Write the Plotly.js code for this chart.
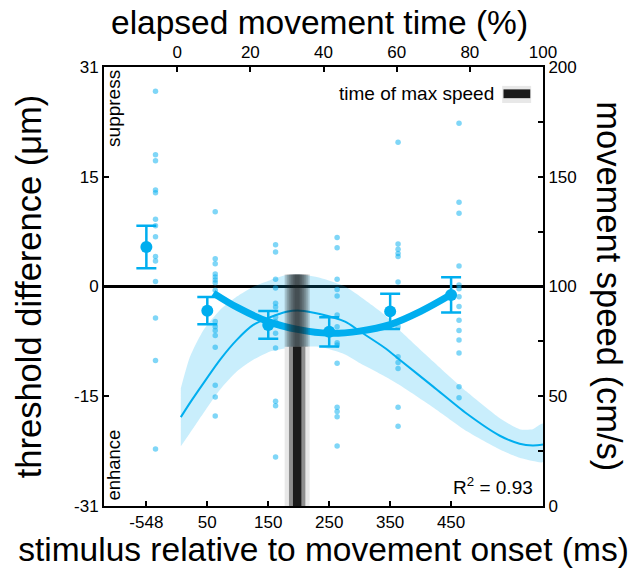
<!DOCTYPE html>
<html><head><meta charset="utf-8">
<script src="https://cdn.plot.ly/plotly-3.0.1.min.js"></script>
<style>html,body{margin:0;padding:0;background:#fff}#chart{width:634px;height:568px}</style>
</head><body><div id="chart"></div>
<script>
// ---- data ----
const conditionLabels = ['-548', '50', '150', '250', '350', '450'];
const conditionPos = [-50, 50, 150, 250, 350, 450];      // ms, plotting position of condition means
const pointPos = [-35, 63, 162, 263, 363, 463];          // ms, plotting position of individual points
const pointsCond0 = [26.7, 18.0, 17.2, 13.2, 12.8, 9.2, 8.3, 6.8, 4.1, 3.5, 0.7, -4.3, -10.1, -22.2];
const pointsCond1 = [10.2, 3.8, 3.1, 1.7, 1.3, 0.9, 0.5, -0.5, -4.8, -5.5, -6.0, -6.7, -8.3, -13.5, -15.1, -17.7];
const pointsCond2 = [5.7, 4.7, 1.0, -0.2, -2.3, -2.8, -4.2, -4.8, -6.4, -8.4, -15.7, -16.3, -23.3];
const pointsCond3 = [6.7, 5.3, 1.0, -0.4, -1.3, -3.9, -5.5, -7.7, -8.0, -10.5, -16.5, -17.1, -17.8, -21.8];
const pointsCond4 = [19.7, 5.8, 5.1, 4.5, 4.1, 0.6, -4.8, -5.5, -9.6, -10.4, -11.2, -16.5, -19.1];
const pointsCond5 = [22.3, 11.5, 10.0, 2.8, 0.2, -0.3, -1.4, -2.75, -4.6, -6.0, -7.3, -9.1, -13.7, -15.2];
const meanThreshold = [5.4, -3.3, -5.25, -6.2, -3.4, -1.15];
const semThreshold = [2.9, 1.85, 1.9, 2.0, 2.4, 2.4];
const fitTime = [60, 100, 150, 200, 250, 300, 350, 400, 450];
const fitThreshold = [-0.9, -2.9, -4.8, -5.9, -6.4, -6.1, -5.2, -3.4, -1.1];
const speedPct   = [1.0, 3.5, 7.2, 11.7, 16.3, 20.8, 25.4, 29.9, 33.6, 39.0, 45.9, 50.0, 56.8, 60.9, 69.9, 79.2, 88.2, 93.6, 97.2, 100];
const speedMean  = [40.5, 47, 56, 66.6, 75.7, 82.5, 86, 88.5, 89, 87.5, 84, 79.5, 72, 66.5, 54.5, 42, 32, 28.4, 27.6, 28];
const speedUpper = [53.7, 68, 80.2, 89.3, 95.4, 99.9, 102.9, 105.2, 105.5, 104, 100, 95.5, 87, 80, 66, 52, 40, 35, 35, 37.5];
const speedLower = [27.2, 33.3, 42.4, 53, 61.3, 66.6, 70.4, 71.9, 72.5, 72.5, 69, 65, 59, 55, 45, 34, 25.7, 22, 20.5, 20];
const maxSpeedPct = 32.8;          // time of max speed (% of movement)
const maxSpeedBandLow = 72.5;      // speed band at time of max speed (cm/s)
const maxSpeedBandHigh = 105.5;
const elapsedTicks = [0, 20, 40, 60, 80, 100];
const thresholdTickVals = [-30, -15, 0, 15, 30];
const thresholdTickText = ['-31', '-15', '0', '15', '31'];
const speedTickVals = [0, 50, 100, 150, 200];
const r2Value = 0.93;

// ---- styles ----
const BLUE = '#00aeef';
const FONT = 'Liberation Sans, Arial, Helvetica, sans-serif';
const allPoints = [pointsCond0, pointsCond1, pointsCond2, pointsCond3, pointsCond4, pointsCond5];

const ptsX = [], ptsY = [];
allPoints.forEach((arr, i) => arr.forEach(v => { ptsX.push(pointPos[i]); ptsY.push(v); }));

const traces = [
  { type: 'scatter', mode: 'markers', x: ptsX, y: ptsY, xaxis: 'x', yaxis: 'y',
    marker: { size: 5.5, color: 'rgba(0,174,239,0.5)', line: { width: 0 } }, hoverinfo: 'skip' },
  { type: 'scatter', mode: 'lines', x: fitTime, y: fitThreshold, xaxis: 'x', yaxis: 'y',
    line: { color: BLUE, width: 7, shape: 'spline' }, hoverinfo: 'skip' },
  { type: 'scatter', mode: 'markers', x: conditionPos, y: meanThreshold, xaxis: 'x', yaxis: 'y',
    marker: { size: 12, color: BLUE },
    error_y: { type: 'data', array: semThreshold, visible: true, color: BLUE, thickness: 2.5, width: 10 }, hoverinfo: 'skip' },
  { type: 'scatter', mode: 'lines', x: speedPct.concat(speedPct.slice().reverse()),
    y: speedUpper.concat(speedLower.slice().reverse()), xaxis: 'x2', yaxis: 'y2',
    fill: 'toself', fillcolor: 'rgba(0,174,239,0.21)', line: { width: 0, shape: 'spline', smoothing: 0.6 }, hoverinfo: 'skip' },
  { type: 'scatter', mode: 'lines', x: speedPct, y: speedMean, xaxis: 'x2', yaxis: 'y2',
    line: { color: BLUE, width: 2, shape: 'spline', smoothing: 0.8 }, hoverinfo: 'skip' }
];

// time-of-max-speed bar shapes
const shapes = [];
function barRect(y0, y1, half, fill, opacity) {
  shapes.push({ type: 'rect', xref: 'x2', yref: 'y2', xsizemode: 'pixel', xanchor: maxSpeedPct,
    x0: -half, x1: half, y0: y0, y1: y1, fillcolor: fill, opacity: opacity, line: { width: 0 }, layer: 'above' });
}
barRect(0, maxSpeedBandLow, 12.5, '#e8e8e8', 1);
barRect(0, maxSpeedBandLow, 8.2, '#8e8e8e', 1);
barRect(0, maxSpeedBandLow, 4.2, '#1b1b1b', 1);
[12.5, 10.5, 8.5, 6.5, 4.5, 2.5].forEach(h => barRect(maxSpeedBandLow, maxSpeedBandHigh, h, '#1b1b1b', 0.2));
// legend sample
shapes.push({ type: 'rect', xref: 'paper', yref: 'paper', x0: 0.907, x1: 0.973, y0: 0.918, y1: 0.957,
  fillcolor: '#e8e8e8', line: { width: 0 }, layer: 'above' });
shapes.push({ type: 'rect', xref: 'paper', yref: 'paper', x0: 0.910, x1: 0.971, y0: 0.929, y1: 0.949,
  fillcolor: '#1b1b1b', line: { width: 0 }, layer: 'above' });

const axisCommon = { showgrid: false, showline: true, linecolor: 'black', linewidth: 2, ticks: 'inside',
  ticklen: 5, tickwidth: 2, tickcolor: 'black', tickfont: { size: 17, family: FONT, color: 'black' }, zeroline: false };

const layout = {
  width: 634, height: 568,
  margin: { l: 104, r: 91.3, t: 67, b: 61.5, pad: 0 },
  paper_bgcolor: 'white', plot_bgcolor: 'white', showlegend: false,
  font: { family: FONT, color: 'black', size: 17 },
  xaxis: Object.assign({}, axisCommon, { range: [-119.5, 600.8], tickvals: conditionPos, ticktext: conditionLabels,
    title: { text: 'stimulus relative to movement onset (ms)', font: { size: 33.5, family: FONT }, standoff: 7 } }),
  xaxis2: Object.assign({}, axisCommon, { overlaying: 'x', side: 'top', range: [-20, 100], tickvals: elapsedTicks }),
  yaxis: Object.assign({}, axisCommon, { range: [-30, 30], tickvals: thresholdTickVals, ticktext: thresholdTickText,
    zeroline: true, zerolinecolor: 'black', zerolinewidth: 2.5,
    title: { text: 'threshold difference (μm)', font: { size: 34.5, family: FONT }, standoff: 22 } }),
  yaxis2: Object.assign({}, axisCommon, { overlaying: 'y', side: 'right', range: [0, 200],
    tickvals: speedTickVals, minor: { ticks: 'inside', dtick: 25, ticklen: 5, tickwidth: 2, tickcolor: 'black' } }),
  shapes: shapes,
  annotations: [
    { xref: 'paper', yref: 'paper', x: 0.49, y: 1.1024, text: 'elapsed movement time (%)',
      showarrow: false, font: { size: 33.5, family: FONT }, xanchor: 'center', yanchor: 'middle' },
    { xref: 'paper', yref: 'paper', x: 1.151, y: 0.5, text: 'movement speed (cm/s)', textangle: 90,
      showarrow: false, font: { size: 34.5, family: FONT }, xanchor: 'center', yanchor: 'middle' },
    { xref: 'paper', yref: 'paper', x: 0.8936, y: 0.9386, text: 'time of max speed', showarrow: false,
      xanchor: 'right', yanchor: 'middle', font: { size: 19, family: FONT } },
    { xref: 'paper', yref: 'paper', x: 0.9825, y: 0.0466, text: 'R<sup>2</sup> = ' + r2Value.toFixed(2), showarrow: false,
      xanchor: 'right', yanchor: 'middle', font: { size: 19, family: FONT } },
    { xref: 'paper', yref: 'paper', x: 0.0228, y: 0.9045, text: 'suppress', textangle: -90, showarrow: false,
      xanchor: 'center', yanchor: 'middle', font: { size: 19, family: FONT } },
    { xref: 'paper', yref: 'paper', x: 0.0228, y: 0.092, text: 'enhance', textangle: -90, showarrow: false,
      xanchor: 'center', yanchor: 'middle', font: { size: 18.5, family: FONT } }
  ]
};

Plotly.newPlot('chart', traces, layout, { staticPlot: true, displayModeBar: false });
</script></body></html>
